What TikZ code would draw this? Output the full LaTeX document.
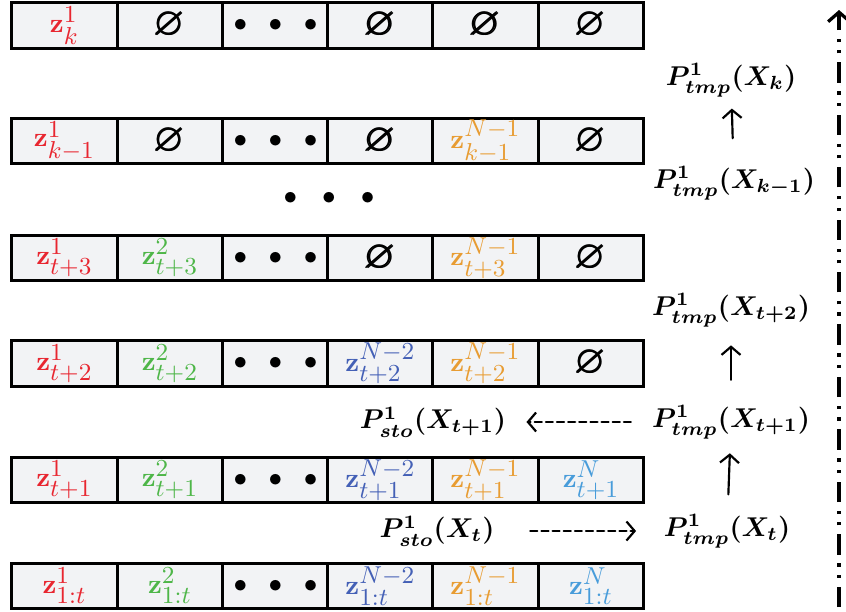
\documentclass[tikz,border=0pt]{standalone}
\usepackage{amsmath,amssymb}
\usepackage{xcolor}
\usepackage{tikz}
\usetikzlibrary{arrows.meta,positioning}

\definecolor{zred}{RGB}{232,38,48}
\definecolor{zgreen}{RGB}{78,182,72}
\definecolor{zblue}{RGB}{68,96,182}
\definecolor{zorange}{RGB}{232,156,50}
\definecolor{zcyan}{RGB}{72,156,218}
\definecolor{cellgray}{RGB}{242,243,245}

\newcommand{\zc}[3]{\textcolor{#1}{$\mathbf{z}^{\mbox{\small$#2$}}_{\mbox{\small$#3$}}$}}
\newcommand{\emptycell}{\Large$\pmb{\varnothing}$}
\newcommand{\celldots}{$\bullet\hspace{5.7pt}\bullet\hspace{5.7pt}\bullet$}

\begin{document}
\begin{tikzpicture}[x=0.368pt,y=-0.368pt,line cap=round,
  cell/.style={draw,line width=1.1pt,fill=cellgray,minimum width=38.75pt,
    minimum height=16.9pt,inner sep=0pt},
  prob/.style={inner sep=1pt},
  up/.style={-{Straight Barb[length=3pt,width=7pt]},line width=.8pt},
  pass/.style={-{Straight Barb[length=3pt,width=7pt]},line width=.8pt,
    dash pattern=on 2.6pt off 1.5pt},
  timeline/.style={-{Straight Barb[length=3.5pt,width=8pt]},line width=1.2pt,
    line cap=butt,dash pattern=on 7.5pt off 3.2pt on 1.2pt off 3pt on 1.2pt off 3.2pt}]
  \useasboundingbox (0,0) rectangle (846,611);
  % One row of stored samples per time step.
  \foreach \r/\y/\cA/\cB/\cD/\cE/\cF in {
    k/25.5/{\zc{zred}{1}{k}}/{\emptycell}/{\emptycell}/{\emptycell}/{\emptycell},
    km/141/{\zc{zred}{1}{k{-}1}}/{\emptycell}/{\emptycell}/{\zc{zorange}{N{-}1}{k{-}1}}/{\emptycell},
    tc/258/{\zc{zred}{1}{t{+}3}}/{\zc{zgreen}{2}{t{+}3}}/{\emptycell}/{\zc{zorange}{N{-}1}{t{+}3}}/{\emptycell},
    tb/363.5/{\zc{zred}{1}{t{+}2}}/{\zc{zgreen}{2}{t{+}2}}/{\zc{zblue}{N{-}2}{t{+}2}}/{\zc{zorange}{N{-}1}{t{+}2}}/{\emptycell},
    ta/480/{\zc{zred}{1}{t{+}1}}/{\zc{zgreen}{2}{t{+}1}}/{\zc{zblue}{N{-}2}{t{+}1}}/{\zc{zorange}{N{-}1}{t{+}1}}/{\zc{zcyan}{N}{t{+}1}},
    t/586/{\zc{zred}{1}{1{:}t}}/{\zc{zgreen}{2}{1{:}t}}/{\zc{zblue}{N{-}2}{1{:}t}}/{\zc{zorange}{N{-}1}{1{:}t}}/{\zc{zcyan}{N}{1{:}t}}}{
    \node[cell] (\r-1) at (64.5,\y) {\cA};
    \node[cell] (\r-2) at (170,\y) {\cB};
    \node[cell] (\r-3) at (275.5,\y) {\celldots};
    \node[cell] (\r-4) at (380.5,\y) {\cD};
    \node[cell] (\r-5) at (485.5,\y) {\cE};
    \node[cell] (\r-6) at (591,\y) {\cF};
  }
  \node (skip) at (329,198) {$\bullet\hspace{7pt}\bullet\hspace{7pt}\bullet$};
  % Temporary and stored probabilities.
  \node[prob] (tmpk) at (731,80) {$\boldsymbol{P^{1}_{tmp}(X_{k})}$};
  \node[prob] (tmpkm) at (734,183) {$\boldsymbol{P^{1}_{tmp}(X_{k-1})}$};
  \node[prob] (tmptb) at (731,310) {$\boldsymbol{P^{1}_{tmp}(X_{t+2})}$};
  \node[prob] (tmpta) at (731,422) {$\boldsymbol{P^{1}_{tmp}(X_{t+1})}$};
  \node[prob] (tmpt) at (727,531) {$\boldsymbol{P^{1}_{tmp}(X_{t})}$};
  \node[prob] (stota) at (433,422) {$\boldsymbol{P^{1}_{sto}(X_{t+1})}$};
  \node[prob] (stot) at (437,531) {$\boldsymbol{P^{1}_{sto}(X_{t})}$};
  \draw[up,shorten <=9pt,shorten >=3pt] (tmpkm) -- (tmpk);
  \draw[up,shorten <=8pt,shorten >=5.5pt] (tmpta) -- (tmptb);
  \draw[up,shorten <=6pt,shorten >=4pt] (tmpt) -- (tmpta);
  \draw[pass,shorten <=6.6pt,shorten >=6.3pt] (tmpta) -- (stota);
  \draw[pass,shorten <=12pt,shorten >=9pt] (stot) -- (tmpt);
  % Time axis.
  \coordinate (tstart) at (839,607);
  \coordinate (tend) at (839,10);
  \draw[timeline] (tstart) -- (tend);
\end{tikzpicture}
\end{document}
